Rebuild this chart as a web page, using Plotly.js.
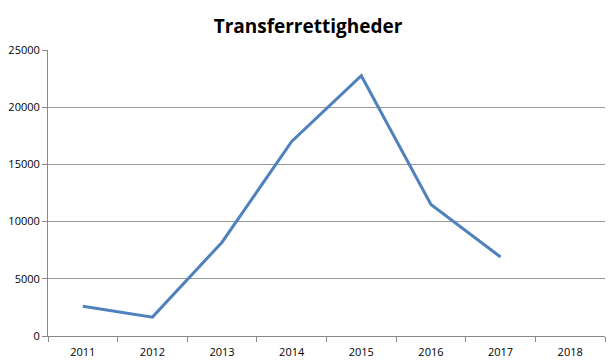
<!DOCTYPE html>
<html><head><meta charset="utf-8">
<script src="https://cdn.plot.ly/plotly-3.0.1.min.js"></script>
<style>html,body{margin:0;padding:0;background:#fff}</style>
</head><body>
<div id="chart" style="width:616px;height:364px"></div>
<script>
var years = ['2011','2012','2013','2014','2015','2016','2017','2018'];
var values = [2600, 1650, 8200, 17000, 22750, 11500, 6900, null];
var yTicks = [0, 5000, 10000, 15000, 20000, 25000];

Plotly.newPlot('chart', [{
  type: 'scatter', mode: 'lines', x: years, y: values,
  line: {color: '#4F81BD', width: 3}, connectgaps: false, hoverinfo: 'none'
}], {
  width: 616, height: 364,
  margin: {l: 48, r: 11, t: 50, b: 28},
  paper_bgcolor: '#fff', plot_bgcolor: '#fff',
  showlegend: false,
  title: {text: '<b>Transferrettigheder</b>', x: 0.5, xanchor: 'center', y: 0.928, yanchor: 'middle',
    font: {family: 'Open Sans, Liberation Sans, sans-serif', size: 19, color: '#000'}},
  xaxis: {type: 'category', categoryarray: years, range: [-0.5, 7.5],
    showgrid: false, showline: true, linecolor: '#888', linewidth: 1,
    ticks: 'outside', tickson: 'boundaries', ticklen: 5, tickcolor: '#888',
    ticklabelstandoff: 6,
    tickfont: {family: 'Open Sans, Liberation Sans, sans-serif', size: 11, color: '#000'}, zeroline: false},
  yaxis: {range: [0, 25000], tickvals: yTicks, ticktext: yTicks.map(String),
    showgrid: true, gridcolor: '#999', gridwidth: 1,
    showline: true, linecolor: '#888', linewidth: 1,
    ticks: 'outside', ticklen: 5, tickcolor: '#888', zeroline: false,
    tickfont: {family: 'Open Sans, Liberation Sans, sans-serif', size: 11, color: '#000'}}
}, {displayModeBar: false, staticPlot: true});
</script>
</body></html>
